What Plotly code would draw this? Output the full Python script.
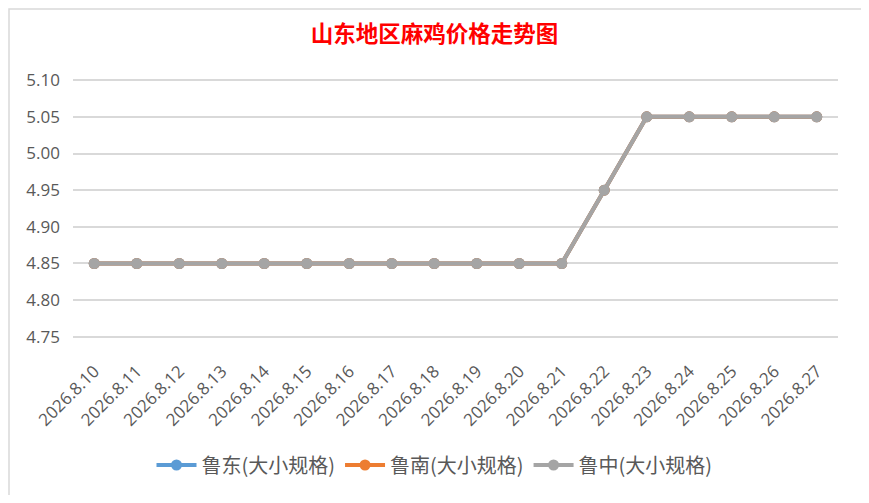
import plotly.graph_objects as go

dates = ["2026.8.10", "2026.8.11", "2026.8.12", "2026.8.13", "2026.8.14", "2026.8.15",
         "2026.8.16", "2026.8.17", "2026.8.18", "2026.8.19", "2026.8.20", "2026.8.21",
         "2026.8.22", "2026.8.23", "2026.8.24", "2026.8.25", "2026.8.26", "2026.8.27"]
ludong = [4.85, 4.85, 4.85, 4.85, 4.85, 4.85, 4.85, 4.85, 4.85, 4.85, 4.85, 4.85,
          4.95, 5.05, 5.05, 5.05, 5.05, 5.05]
lunan = [4.85, 4.85, 4.85, 4.85, 4.85, 4.85, 4.85, 4.85, 4.85, 4.85, 4.85, 4.85,
         4.95, 5.05, 5.05, 5.05, 5.05, 5.05]
luzhong = [4.85, 4.85, 4.85, 4.85, 4.85, 4.85, 4.85, 4.85, 4.85, 4.85, 4.85, 4.85,
           4.95, 5.05, 5.05, 5.05, 5.05, 5.05]
series_names = ["鲁东(大小规格)", "鲁南(大小规格)", "鲁中(大小规格)"]
colors = ["#5B9BD5", "#ED7D31", "#A5A5A5"]
y_ticks = [4.75, 4.80, 4.85, 4.90, 4.95, 5.00, 5.05, 5.10]

W, H = 853, 487
L, R, T, B = 65, 23, 70, 156

fig = go.Figure()
for name, vals, c in zip(series_names, [ludong, lunan, luzhong], colors):
    fig.add_trace(go.Scatter(x=dates, y=vals, name=name, mode="lines+markers",
                             line=dict(color=c, width=4),
                             marker=dict(color=c, size=11)))

pw, ph = W - L - R, H - T - B
fig.update_layout(
    width=W, height=H,
    paper_bgcolor="white", plot_bgcolor="white",
    margin=dict(l=L, r=R, t=T, b=B),
    title=dict(text="<b>山东地区麻鸡价格走势图</b>", x=0.5, xref="container", xanchor="center",
               y=1 - 26 / H, yanchor="middle",
               font=dict(family="Noto Sans CJK SC", size=22.5, color="#FF0000")),
    font=dict(family="Noto Sans CJK SC", color="#595959"),
    showlegend=True,
    legend=dict(orientation="h", xref="container", x=0.5, xanchor="center",
                yref="container", y=1 - 457 / H, yanchor="middle",
                font=dict(size=20, color="#595959"), itemwidth=40,
                tracegroupgap=0),
    xaxis=dict(type="category", tickangle=-45, showgrid=False, showline=False, ticks="",
               tickfont=dict(family="Open Sans", size=17, color="#595959"),
               ticklabelstandoff=18,
               range=[-0.5, len(dates) - 0.5]),
    yaxis=dict(range=[4.747, 5.103], tickvals=y_ticks, ticktext=[f"{v:.2f}" for v in y_ticks],
               showgrid=True, gridcolor="#D9D9D9", gridwidth=1.5, zeroline=False,
               showline=False, ticks="", ticklabelstandoff=12,
               tickfont=dict(family="Open Sans", size=17, color="#595959")),
    shapes=[dict(type="rect", xref="paper", yref="paper",
                 x0=(-L + 1) / pw, x1=(pw + R + 10) / pw,
                 y0=-(B + 10) / ph, y1=1 + (T - 1) / ph,
                 line=dict(color="#D9D9D9", width=1.5))]
)
fig.write_html("out.html")
